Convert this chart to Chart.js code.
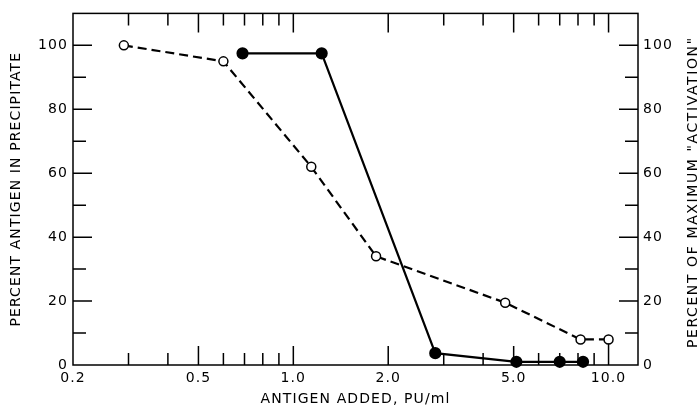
<!DOCTYPE html>
<html>
<head>
  <title>Antigen added vs precipitate</title>
  <style>
    body { margin: 0; background: #fff; }
    #wrap { width: 697px; height: 414px; }
  </style>
</head>
<body>
  <div id="wrap"><canvas id="chart"></canvas></div>

  <script src="https://cdn.jsdelivr.net/npm/chart.js"></script>
  <script>
    // open circles, dashed line: percent of maximum "activation"
    const activationX = [0.29, 0.60, 1.14, 1.83, 4.7, 8.15, 10.0];
    const activationY = [100, 95, 62, 34, 19.5, 8, 8];
    // filled circles, solid line: percent antigen in precipitate
    const precipX = [0.69, 1.23, 2.82, 5.1, 7.0, 8.3];
    const precipY = [97.5, 97.5, 3.7, 1, 1, 1];

    const xMajorTicks = [0.2, 0.5, 1, 2, 5, 10];
    const xMajorLabels = ['0.2', '0.5', '1.0', '2.0', '5.0', '10.0'];
    const xMinorTicks = [0.3, 0.4, 0.6, 0.7, 0.8, 0.9, 3, 4, 6, 7, 8, 9];
    const yLabelTicks = [0, 20, 40, 60, 80, 100];

    const FONT = 'DejaVu Sans';
    const rightTitle = 'PERCENT OF MAXIMUM "ACTIVATION"';

    function toPoints(xs, ys) {
      return xs.map((x, i) => ({ x: x, y: ys[i] }));
    }

    // frame plus inward tick marks, placed through the chart scales
    const frameTicks = {
      id: 'frameTicks',
      beforeDraw(chart) {
        chart.ctx.letterSpacing = '1.1px';
      },
      afterDraw(chart) {
        const ctx = chart.ctx;
        const a = chart.chartArea;
        const xs = chart.scales.x;
        const ys = chart.scales.y;
        ctx.save();
        ctx.strokeStyle = '#000';
        ctx.lineWidth = 1.5;
        ctx.strokeRect(a.left, a.top, a.right - a.left, a.bottom - a.top);
        ctx.beginPath();
        const xt = xMajorTicks.map(v => [v, 19]).concat(xMinorTicks.map(v => [v, 12]));
        xt.forEach(([v, len]) => {
          if (v <= 0.2) return;
          const px = xs.getPixelForValue(v);
          ctx.moveTo(px, a.bottom); ctx.lineTo(px, a.bottom - len);
          ctx.moveTo(px, a.top); ctx.lineTo(px, a.top + len);
        });
        // the 10.0 tick runs up to the last open circle in the original
        const lastX = activationX[activationX.length - 1];
        const lastY = activationY[activationY.length - 1];
        ctx.moveTo(xs.getPixelForValue(lastX), a.bottom);
        ctx.lineTo(xs.getPixelForValue(lastX), ys.getPixelForValue(lastY) + 4);
        for (let v = 10; v <= 100; v += 10) {
          const len = v % 20 === 0 ? 19 : 13;
          const py = ys.getPixelForValue(v);
          ctx.moveTo(a.left, py); ctx.lineTo(a.left + len, py);
          ctx.moveTo(a.right, py); ctx.lineTo(a.right - len, py);
        }
        ctx.stroke();

        // right axis title reads bottom to top, like the left one
        ctx.translate(693, (a.top + a.bottom) / 2 + 3);
        ctx.rotate(-Math.PI / 2);
        ctx.font = '14px "' + FONT + '"';
        ctx.letterSpacing = '1.6px';
        ctx.fillStyle = '#000';
        ctx.textAlign = 'center';
        ctx.textBaseline = 'middle';
        ctx.fillText(rightTitle, 0, 0);
        ctx.restore();
      }
    };

    const yCommon = {
      type: 'linear',
      min: 0,
      max: 110,
      ticks: {
        stepSize: 10,
        color: '#000',
        font: { family: FONT, size: 14 },
        padding: 5,
        callback: v => yLabelTicks.includes(v) ? String(v) : ''
      },
      grid: { display: false, drawTicks: false },
      border: { display: false }
    };

    new Chart(document.getElementById('chart'), {
      type: 'scatter',
      data: {
        datasets: [
          {
            label: 'activation',
            data: toPoints(activationX, activationY),
            showLine: true,
            borderColor: '#000',
            borderWidth: 2.2,
            borderDash: [9, 5],
            pointRadius: 4.5,
            pointBackgroundColor: '#fff',
            pointBorderColor: '#000',
            pointBorderWidth: 1.5,
            clip: false
          },
          {
            label: 'precipitate',
            data: toPoints(precipX, precipY),
            showLine: true,
            borderColor: '#000',
            borderWidth: 2.2,
            pointRadius: 5,
            pointBackgroundColor: '#000',
            pointBorderColor: '#000',
            clip: false
          }
        ]
      },
      options: {
        responsive: true,
        maintainAspectRatio: false,
        animation: false,
        layout: { padding: { top: 12 } },
        plugins: { legend: { display: false }, tooltip: { enabled: false } },
        scales: {
          x: {
            type: 'logarithmic',
            min: 0.2,
            max: 12.4,
            afterBuildTicks: s => { s.ticks = xMajorTicks.map(v => ({ value: v })); },
            afterFit: s => { s.height = 49; },
            ticks: {
              autoSkip: false,
              maxRotation: 0,
              color: '#000',
              font: { family: FONT, size: 14 },
              padding: 5,
              callback: v => {
                const i = xMajorTicks.indexOf(v);
                return i >= 0 ? xMajorLabels[i] : '';
              }
            },
            grid: { display: false, drawTicks: false },
            border: { display: false },
            title: {
              display: true,
              text: 'ANTIGEN ADDED, PU/ml',
              color: '#000',
              font: { family: FONT, size: 14 },
              padding: { top: 0, bottom: 6 }
            }
          },
          y: Object.assign({}, yCommon, {
            position: 'left',
            afterFit: s => { s.width = 73; },
            title: {
              display: true,
              text: 'PERCENT ANTIGEN IN PRECIPITATE',
              color: '#000',
              font: { family: FONT, size: 14 },
              padding: { top: 8, bottom: 0 }
            }
          }),
          y2: Object.assign({}, yCommon, {
            position: 'right',
            afterFit: s => { s.width = 59; }
          })
        }
      },
      plugins: [frameTicks]
    });
  </script>
</body>
</html>
